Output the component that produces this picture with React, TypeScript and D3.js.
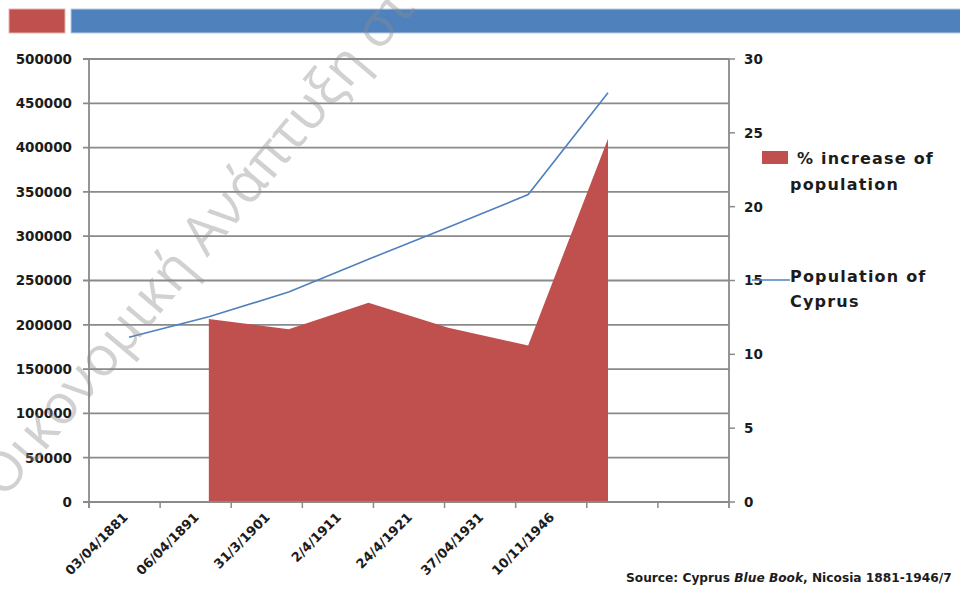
import React from "react";
import * as d3 from "d3";

// census dates (x axis has two extra empty slots at the end)
const censusDates = ["03/04/1881", "06/04/1891", "31/3/1901", "2/4/1911", "24/4/1921", "37/04/1931", "10/11/1946"];
const axisSlots = [...censusDates, "", ""];
const population = [186000, 209000, 237000, 274000, 310000, 347000, 462000];
const pctIncrease: (number | null)[] = [null, 12.4, 11.7, 13.5, 11.8, 10.6, 24.6];
const leftTicks = [0, 50000, 100000, 150000, 200000, 250000, 300000, 350000, 400000, 450000, 500000];
const rightTicks = [0, 5, 10, 15, 20, 25, 30];

const W = 960, H = 589;
const plot = { left: 89, right: 729, top: 59, bottom: 502 };
const red = "#C0504D", blue = "#4F81BD", grid = "#8a8a8a", ink = "#1c1c1c";
const font = "'DejaVu Sans', Verdana, sans-serif";

export default function App() {
  const xCat = d3.scaleBand().domain(axisSlots.map((d, i) => i + "")).range([plot.left, plot.right]);
  // data points sit on their own (secondary) category axis
  const xPt = d3.scalePoint().domain(censusDates).range([plot.left + 40, plot.right - 121]);
  const yPop = d3.scaleLinear().domain([0, 500000]).range([plot.bottom, plot.top]);
  const yPct = d3.scaleLinear().domain([0, 30]).range([plot.bottom, plot.top]);

  const area = d3.area<number | null>()
    .defined(d => d != null)
    .x((d, i) => xPt(censusDates[i])!)
    .y0(plot.bottom)
    .y1(d => yPct(d as number));
  const line = d3.line<number>()
    .x((d, i) => xPt(censusDates[i])!)
    .y(d => yPop(d));

  return (
    <svg width={W} height={H} style={{ position: "absolute", left: 0, top: 0, background: "#fff" }}>
      {/* header bars */}
      <rect x={9} y={9} width={56} height={24} fill={red} stroke="#e3b6b5" strokeWidth={1} />
      <rect x={71} y={9} width={895} height={24} fill={blue} stroke="#b9cce4" strokeWidth={1} />

      {/* gridlines */}
      {leftTicks.map(t => (
        <line key={"g" + t} x1={plot.left - 6} x2={plot.right} y1={yPop(t)} y2={yPop(t)} stroke={grid} strokeWidth={1.8} />
      ))}
      {/* area series */}
      <path d={area(pctIncrease) || ""} fill={red} />
      {/* line series */}
      <path d={line(population) || ""} fill="none" stroke={blue} strokeWidth={1.6} />

      {/* axes */}
      <line x1={plot.left} x2={plot.left} y1={plot.top} y2={plot.bottom + 6} stroke={grid} strokeWidth={1.8} />
      <line x1={plot.right} x2={plot.right} y1={plot.top} y2={plot.bottom + 6} stroke={grid} strokeWidth={1.8} />
      <line x1={plot.left} x2={plot.right} y1={plot.bottom} y2={plot.bottom} stroke={grid} strokeWidth={1.8} />
      {axisSlots.map((d, i) => (
        <line key={"xt" + i} x1={xCat(i + "")!} x2={xCat(i + "")!} y1={plot.bottom} y2={plot.bottom + 6} stroke={grid} strokeWidth={1.5} />
      ))}
      {rightTicks.map(t => (
        <line key={"rt" + t} x1={plot.right} x2={plot.right + 6} y1={yPct(t)} y2={yPct(t)} stroke={grid} strokeWidth={1.5} />
      ))}

      {/* tick labels */}
      <g fontFamily={font} fontWeight="bold" fontSize={13.5} fill={ink}>
        {leftTicks.map(t => (
          <text key={"l" + t} x={72} y={yPop(t)} dy="0.36em" textAnchor="end">{t}</text>
        ))}
        {rightTicks.map(t => (
          <text key={"r" + t} x={744} y={yPct(t)} dy="0.36em">{t}</text>
        ))}
        {axisSlots.map((d, i) => d && (
          <text key={"x" + i} fontSize={13}
            transform={`translate(${xCat(i + "")! + xCat.bandwidth() / 2 + 4},${plot.bottom + 16}) rotate(-45)`}
            textAnchor="end">{d}</text>
        ))}
      </g>

      {/* legend */}
      <g fontFamily={font} fontWeight="bold" fontSize={16} fill={ink} letterSpacing={1.2}>
        <rect x={762} y={151} width={26} height={13} fill={red} />
        <text x={797} y={164}>% increase of</text>
        <text x={790} y={190}>population</text>
        <line x1={752} x2={790} y1={280} y2={280} stroke={blue} strokeWidth={1.5} />
        <text x={790} y={282}>Population of</text>
        <text x={790} y={307}>Cyprus</text>
      </g>

      {/* source */}
      <text x={626} y={582} fontFamily={font} fontWeight="bold" fontSize={12.2} fill={ink}>
        Source: Cyprus <tspan fontStyle="italic">Blue Book</tspan>, Nicosia 1881-1946/7
      </text>

      {/* watermark */}
      <text transform="translate(4,500) rotate(-50)" fontFamily="'Open Sans', sans-serif"
        fontSize={55} fill="#8c8c8c" fillOpacity={0.4}>
        Οικονομική Ανάπτυξη στ
      </text>
    </svg>
  );
}
